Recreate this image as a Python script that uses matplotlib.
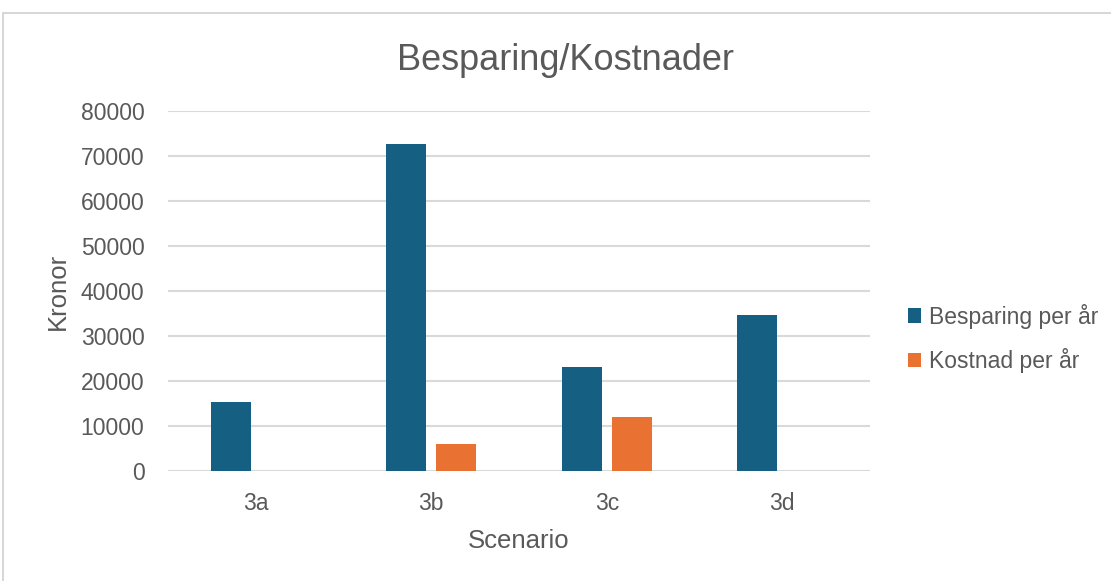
import numpy as np
import matplotlib
matplotlib.use('Agg')
import matplotlib.pyplot as plt
from matplotlib.patches import Rectangle

# data
scenarios = ['3a', '3b', '3c', '3d']
besparing = [15400, 72600, 23200, 34600]
kostnad = [0, 6100, 12000, 0]

blue = '#156082'
orange = '#E97132'
grey_text = '#595959'
grid_col = '#D9D9D9'

plt.rcParams['font.family'] = ['Liberation Sans', 'DejaVu Sans']

fig = plt.figure(figsize=(11.11, 5.81), dpi=100)
ax = fig.add_axes([168 / 1111, 1 - 471 / 581, (870 - 168) / 1111, (471 - 111) / 581])

# outer chart frame
fig.patches.append(Rectangle((3 / 1111, -0.01), 1.02, 1 - 13 / 581 + 0.01,
                             transform=fig.transFigure, fill=False,
                             edgecolor='#D0D0D0', linewidth=1.2))

x = np.arange(len(scenarios))
w = 0.228
ax.bar(x - 0.142, besparing, w, color=blue, label='Besparing per år', zorder=3)
ax.bar(x + 0.142, kostnad, w, color=orange, label='Kostnad per år', zorder=3)

ax.set_xlim(-0.5, 3.5)
ax.set_ylim(0, 80000)
ax.set_yticks(range(0, 80001, 10000))
ax.set_xticks(x)
ax.set_xticklabels(scenarios)
ax.yaxis.grid(True, color=grid_col, linewidth=1.5, zorder=0)
ax.set_axisbelow(True)
for s in ax.spines.values():
    s.set_visible(False)
ax.tick_params(length=0, labelsize=16.5, colors=grey_text)
ax.tick_params(axis='y', pad=17)
ax.tick_params(axis='x', pad=15)

fig.text(566 / 1111, 1 - 61 / 581, 'Besparing/Kostnader', fontsize=26,
         color=grey_text, ha='center', va='center')
ax.set_xlabel('Scenario', fontsize=18.5, color=grey_text)
ax.set_ylabel('Kronor', fontsize=18.5, color=grey_text)
ax.xaxis.set_label_coords(0.5, -(541 - 471) / 360, transform=ax.transAxes)
ax.yaxis.set_label_coords(-(168 - 58) / 702, 0.5, transform=ax.transAxes)
ax.xaxis.label.set_va('center')
ax.yaxis.label.set_va('center')

fig.legend(loc='upper left', bbox_to_anchor=(887 / 1111, 1 - 283 / 581),
           frameon=False, fontsize=16.5, labelcolor=grey_text,
           handlelength=0.6, handleheight=0.6, handletextpad=0.35,
           labelspacing=0.85)

fig.savefig('out.png', dpi=100)
